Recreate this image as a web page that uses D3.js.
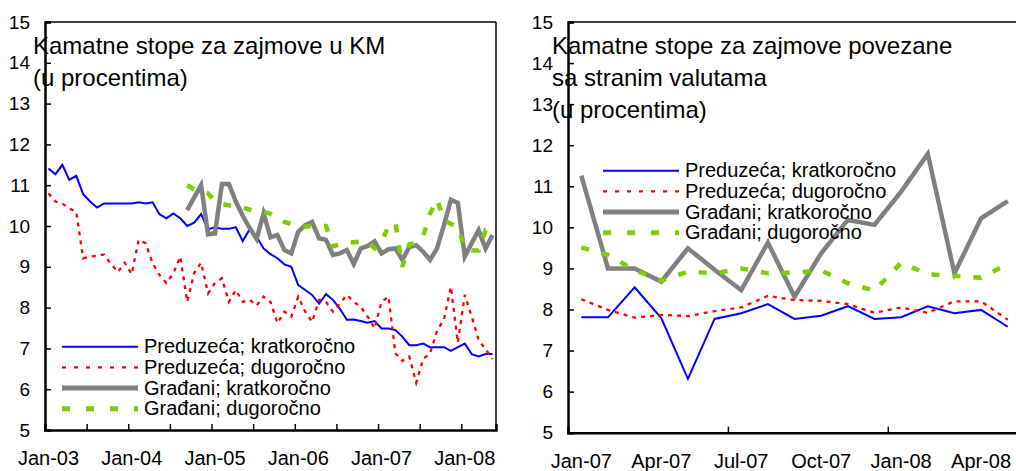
<!DOCTYPE html>
<html><head><meta charset="utf-8">
<script src="https://cdn.jsdelivr.net/npm/d3@7"></script>
<style>
body{margin:0;background:#fff}
svg{display:block}
text{font-family:"Liberation Sans",Arial,sans-serif;fill:#000}
</style>
</head><body>
<svg id="c" width="1016" height="471"></svg>
<script>
// ---------- DATA ----------
const fmt = d3.timeFormat("%b-%y");
const leftCategories = d3.timeMonths(new Date(2003,0,1), new Date(2008,5,1)).map(fmt);   // Jan-03 .. May-08
const rightCategories = d3.timeMonths(new Date(2007,0,1), new Date(2008,5,1)).map(fmt);  // Jan-07 .. May-08

const seriesNames = ["Preduzeća; kratkoročno","Preduzeća; dugoročno","Građani; kratkoročno","Građani; dugoročno"];

// Left panel: loans in KM (65 months)
const leftPredKratko = [11.41,11.27,11.50,11.13,11.23,10.78,10.60,10.45,10.55,10.55,10.55,10.55,10.55,10.58,10.55,10.58,
  10.29,10.19,10.31,10.19,10.00,10.08,10.29,9.92,9.97,9.93,9.93,9.97,9.63,9.92,9.74,9.45,9.31,9.21,9.06,9.00,
  8.55,8.43,8.31,8.10,8.33,8.19,7.97,7.70,7.71,7.67,7.63,7.67,7.49,7.49,7.45,7.29,7.08,7.08,7.12,7.03,7.03,7.03,
  6.94,7.03,7.12,6.86,6.80,6.86,6.86];
const leftPredDugo = [10.80,10.60,10.55,10.43,10.35,9.21,9.25,9.27,9.30,9.07,8.87,9.10,8.82,9.66,9.58,9.09,
  8.80,8.60,8.84,9.25,8.14,8.85,9.10,8.35,8.60,8.72,8.14,8.43,8.14,8.19,8.05,8.27,8.14,7.62,7.90,7.78,
  8.27,7.90,7.65,8.19,8.14,7.90,8.10,8.31,8.14,8.02,7.78,7.49,8.14,8.27,6.88,6.69,6.80,6.16,6.74,6.88,7.43,7.71,
  8.51,7.14,8.31,7.78,7.20,6.98,6.74];
const leftGradKratko = [null,null,null,null,null,null,null,null,null,null,null,null,null,null,null,null,null,null,null,null,
  10.39,10.70,11.00,9.80,9.82,11.03,11.03,10.60,10.25,9.95,9.68,10.31,9.72,9.78,9.41,9.33,
  9.86,10.02,10.10,9.70,9.66,9.29,9.33,9.41,9.07,9.45,9.51,9.62,9.33,9.43,9.45,9.17,9.48,9.53,9.37,9.17,9.45,10.02,
  10.64,10.57,9.25,9.58,9.90,9.45,9.78];
const leftGradDugo = [null,null,null,null,null,null,null,null,null,null,null,null,null,null,null,null,null,null,null,null,
  11.00,10.90,10.85,10.80,10.60,10.55,10.50,10.50,10.45,10.40,10.35,10.35,10.30,10.20,10.10,10.05,
  10.00,9.98,10.00,10.02,10.00,9.50,9.55,9.60,9.60,9.62,9.62,9.45,9.60,10.00,10.08,9.00,9.55,9.60,9.75,10.30,10.65,10.15,
  10.05,9.98,9.45,9.40,9.40,9.90,9.90];

// Right panel: loans indexed to foreign currency (17 months)
const rightPredKratko = [7.81,7.81,8.54,7.79,6.31,7.77,7.91,8.13,7.77,7.85,8.08,7.77,7.81,8.08,7.91,7.99,7.58];
const rightPredDugo   = [8.25,7.99,7.80,7.87,7.84,7.96,8.05,8.33,8.23,8.21,8.13,7.92,8.05,7.92,8.20,8.20,7.75];
const rightGradKratko = [11.26,9.00,9.00,8.68,9.49,8.97,8.47,9.63,8.31,9.37,10.18,10.06,10.87,11.79,8.88,10.22,10.64];
const rightGradDugo   = [9.51,9.33,8.96,8.70,8.92,8.88,9.00,8.88,8.90,8.95,8.64,8.46,9.14,8.86,8.82,8.77,9.11];

const leftTickLabels = ["Jan-03","Jan-04","Jan-05","Jan-06","Jan-07","Jan-08"];
const rightTickLabels = ["Jan-07","Apr-07","Jul-07","Oct-07","Jan-08","Apr-08"];
const yTickValues = [5,6,7,8,9,10,11,12,13,14,15];
const leftTitle = ["Kamatne stope za zajmove u KM","(u procentima)"];
const rightTitle = ["Kamatne stope za zajmove povezane","sa stranim valutama","(u procentima)"];

// ---------- STYLES ----------
const styles = [
  {color:"#0000FF", width:2,   dash:null},
  {color:"#FF0000", width:2.3, dash:"4,5"},
  {color:"#808080", width:4.5, dash:null},
  {color:"#80CC00", width:4.5, dash:"8,13"}
];

const svg = d3.select("#c");

function panel(cfg){
  const g = svg.append("g");
  const x = d3.scaleBand().domain(cfg.categories).range([cfg.x0, cfg.x1]).padding(0);
  const xi = d3.scaleLinear().domain([0, cfg.categories.length]).range([cfg.x0, cfg.x1]);
  const y = d3.scaleLinear().domain([5,15]).range([cfg.yBottom, cfg.yTop]);
  const cx = d => x(d) + x.bandwidth()/2;

  // frame (top & right)
  g.append("line").attr("x1",cfg.x0).attr("x2",cfg.x1).attr("y1",cfg.yTop).attr("y2",cfg.yTop)
    .attr("stroke","#000").attr("stroke-width",1.5);
  g.append("line").attr("x1",cfg.x1).attr("x2",cfg.x1).attr("y1",cfg.yTop).attr("y2",cfg.yBottom)
    .attr("stroke","#000").attr("stroke-width",1.5);

  // series
  cfg.series.forEach((s,k)=>{
    const line = d3.line().defined(d=>d!=null)
      .x((d,i)=>cx(cfg.categories[i])).y(d=>y(d));
    const p = g.append("path").datum(s).attr("d",line).attr("fill","none")
      .attr("stroke",styles[k].color).attr("stroke-width",styles[k].width)
      .attr("stroke-linejoin","miter");
    if(styles[k].dash) p.attr("stroke-dasharray",styles[k].dash);
  });

  // y axis
  const ya = g.append("g").attr("transform",`translate(${cfg.x0},0)`)
    .call(d3.axisLeft(y).tickValues(yTickValues).tickSize(-6).tickPadding(15).tickFormat(d3.format("d")));
  ya.select(".domain").attr("stroke-width",2.5).attr("stroke","#000");
  ya.selectAll(".tick line").attr("stroke-width",1.5);
  ya.selectAll("text").style("font-size","19px").style("font-family",'"Liberation Sans",Arial,sans-serif');

  // x axis tick marks at category boundaries
  const xt = g.append("g").attr("transform",`translate(0,${cfg.yBottom})`)
    .call(d3.axisBottom(xi).tickValues(cfg.tickIdx).tickSize(-6).tickFormat(""));
  xt.select(".domain").attr("stroke-width",2.5).attr("stroke","#000");
  xt.selectAll(".tick line").attr("stroke-width",1.5);

  // x axis labels at category centers
  const xl = g.append("g").attr("transform",`translate(0,${cfg.yBottom})`)
    .call(d3.axisBottom(x).tickValues(cfg.tickLabels).tickSize(0).tickPadding(21));
  xl.select(".domain").remove();
  xl.selectAll("text").style("font-size","20px").style("font-family",'"Liberation Sans",Arial,sans-serif');

  // title
  const t = g.append("text").attr("x",cfg.titleX).attr("y",cfg.titleY).style("font-size","24px");
  cfg.title.forEach((s,i)=>t.append("tspan").attr("x",cfg.titleX).attr("y",cfg.titleY+i*32.3).text(s));

  // legend
  const lg = g.append("g");
  seriesNames.forEach((n,k)=>{
    const ly = cfg.legY + k*20.7;
    const l = lg.append("line").attr("x1",cfg.legX1).attr("x2",cfg.legX2).attr("y1",ly).attr("y2",ly)
      .attr("stroke",styles[k].color).attr("stroke-width",k>=2?5:styles[k].width);
    if(styles[k].dash) l.attr("stroke-dasharray",k==3?"8,16":"4,8");
    lg.append("text").attr("x",cfg.legTextX).attr("y",ly+6.5).style("font-size","20px").text(n);
  });
}

panel({
  categories: leftCategories, x0:45, x1:496, yTop:22, yBottom:430,
  series:[leftPredKratko,leftPredDugo,leftGradKratko,leftGradDugo],
  tickIdx: d3.range(6, leftCategories.length, 6), tickLabels: leftTickLabels,
  title: leftTitle, titleX:33, titleY:54,
  legX1:62, legX2:138, legTextX:144, legY:346.7
});
panel({
  categories: rightCategories, x0:568, x1:568+17*26.65, yTop:22, yBottom:432.7,
  series:[rightPredKratko,rightPredDugo,rightGradKratko,rightGradDugo],
  tickIdx: [6,12], tickLabels: rightTickLabels,
  title: rightTitle, titleX:552, titleY:53.5,
  legX1:603, legX2:679, legTextX:685, legY:170.7
});
</script>
</body></html>
